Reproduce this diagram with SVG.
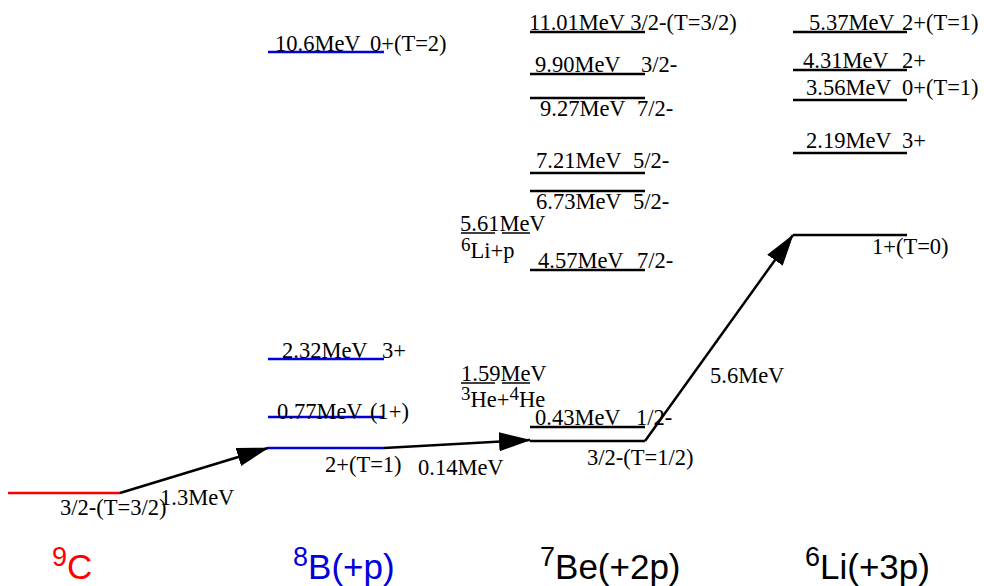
<svg xmlns="http://www.w3.org/2000/svg" width="984" height="586" viewBox="0 0 984 586">
<defs>
<style>
.t{font-family:"Liberation Serif","Times New Roman",serif;font-size:22.5px;fill:#000}
.s{font-size:19px}
.lab{font-family:"Liberation Sans",Arial,sans-serif;font-size:35px}
.sup{font-size:27px}
.lv{stroke-width:2.5;fill:none}
.blk{stroke:#000}
.blu{stroke:#0000dd}
.red{stroke:#ff0000}
.dash{stroke:#000;stroke-width:1.5;stroke-dasharray:34 7;fill:none}
.arr{stroke:#000;stroke-width:2.5;fill:none;marker-end:url(#ah)}
</style>
<marker id="ah" markerUnits="userSpaceOnUse" markerWidth="32" markerHeight="20" refX="31" refY="9.5" orient="auto" viewBox="0 0 32 20">
<path d="M0,0 L32,9.5 L0,19 Z" fill="#000"/>
</marker>
</defs>
<rect width="984" height="586" fill="#fff"/>

<g id="n9C">
<line class="lv red" x1="8" y1="493" x2="120" y2="493"/>
<text class="t" x="60" y="515">3/2-(T=3/2)</text>
<text class="lab" fill="#ff0000" x="52" y="579"><tspan class="sup" dy="-13">9</tspan><tspan dy="13">C</tspan></text>
</g>

<g id="n8B">
<line class="lv blu" x1="268" y1="448" x2="384" y2="448"/>
<text class="t" x="325" y="472">2+(T=1)</text>
<line class="lv blu" x1="268" y1="417" x2="384" y2="417"/>
<text class="t" x="277" y="419">0.77MeV<tspan x="370">(1+)</tspan></text>
<line class="lv blu" x1="268" y1="359" x2="384" y2="359"/>
<text class="t" x="282" y="358">2.32MeV<tspan x="382">3+</tspan></text>
<line class="lv blu" x1="268" y1="52" x2="384" y2="52"/>
<text class="t" x="275" y="51">10.6MeV<tspan x="370">0+(T=2)</tspan></text>
<text class="lab" fill="#0000dd" x="293" y="579"><tspan class="sup" dy="-13">8</tspan><tspan dy="13">B(+p)</tspan></text>
</g>

<g id="n7Be">
<line class="lv blk" x1="530" y1="441" x2="645" y2="441"/>
<text class="t" x="587" y="465">3/2-(T=1/2)</text>
<line class="lv blk" x1="530" y1="427" x2="645" y2="427"/>
<text class="t" x="535" y="425">0.43MeV<tspan x="636">1/2-</tspan></text>
<line class="dash" x1="461" y1="383" x2="530" y2="383"/>
<text class="t" x="461" y="381">1.59MeV</text>
<text class="t" x="461" y="407"><tspan class="s" dy="-7">3</tspan><tspan dy="7">He+</tspan><tspan class="s" dy="-7">4</tspan><tspan dy="7">He</tspan></text>
<line class="dash" x1="461" y1="233" x2="530" y2="233"/>
<text class="t" x="460" y="231">5.61MeV</text>
<text class="t" x="461" y="258"><tspan class="s" dy="-7">6</tspan><tspan dy="7">Li+p</tspan></text>
<line class="lv blk" x1="530" y1="270" x2="645" y2="270"/>
<text class="t" x="538" y="268">4.57MeV<tspan x="637">7/2-</tspan></text>
<line class="lv blk" x1="530" y1="191" x2="645" y2="191"/>
<text class="t" x="536" y="209">6.73MeV<tspan x="633">5/2-</tspan></text>
<line class="lv blk" x1="530" y1="173" x2="645" y2="173"/>
<text class="t" x="536" y="168">7.21MeV<tspan x="633">5/2-</tspan></text>
<line class="lv blk" x1="530" y1="98" x2="645" y2="98"/>
<text class="t" x="540" y="116">9.27MeV<tspan x="637">7/2-</tspan></text>
<line class="lv blk" x1="530" y1="74" x2="645" y2="74"/>
<text class="t" x="535" y="72">9.90MeV<tspan x="641">3/2-</tspan></text>
<line class="lv blk" x1="530" y1="32" x2="645" y2="32"/>
<text class="t" x="529" y="30">11.01MeV 3/2-(T=3/2)</text>
<text class="lab" fill="#000" x="540" y="579"><tspan class="sup" dy="-13">7</tspan><tspan dy="13">Be(+2p)</tspan></text>
</g>

<g id="n6Li">
<line class="lv blk" x1="793" y1="235" x2="907" y2="235"/>
<text class="t" x="872" y="254">1+(T=0)</text>
<line class="lv blk" x1="793" y1="153" x2="907" y2="153"/>
<text class="t" x="806" y="148">2.19MeV<tspan x="902">3+</tspan></text>
<line class="lv blk" x1="793" y1="100" x2="907" y2="100"/>
<text class="t" x="806" y="95">3.56MeV<tspan x="902">0+(T=1)</tspan></text>
<line class="lv blk" x1="793" y1="70" x2="907" y2="70"/>
<text class="t" x="803" y="68">4.31MeV<tspan x="902">2+</tspan></text>
<line class="lv blk" x1="793" y1="32" x2="907" y2="32"/>
<text class="t" x="809" y="30">5.37MeV<tspan x="902">2+(T=1)</tspan></text>
<text class="lab" fill="#000" x="805" y="579"><tspan class="sup" dy="-13">6</tspan><tspan dy="13">Li(+3p)</tspan></text>
</g>

<g id="connectors">
<line class="arr" x1="120" y1="493" x2="268" y2="448"/>
<text class="t" x="160" y="505">1.3MeV</text>
<line class="arr" x1="384" y1="448" x2="530" y2="440"/>
<text class="t" x="418" y="475">0.14MeV</text>
<line class="arr" x1="645" y1="441" x2="793" y2="235"/>
<text class="t" x="710" y="383">5.6MeV</text>
</g>
</svg>
